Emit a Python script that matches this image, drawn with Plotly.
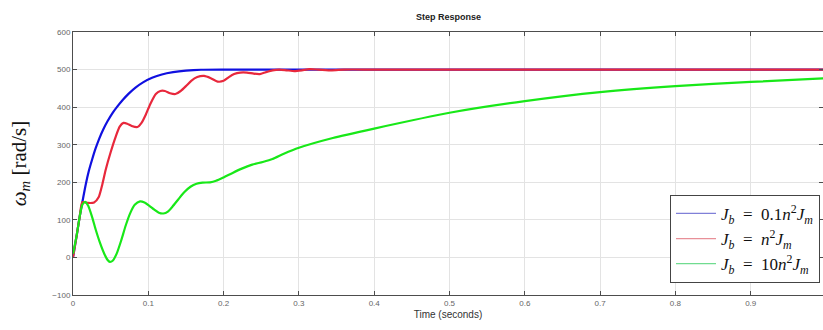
import plotly.graph_objects as go

# Step response of motor speed for three load inertia ratios
t_fast = [0, 0.005, 0.009, 0.0124, 0.017, 0.021, 0.025, 0.030, 0.035, 0.040, 0.046, 0.052, 0.059,
          0.066, 0.074, 0.083, 0.093, 0.105, 0.118, 0.133, 0.150, 0.170, 0.20, 0.25, 0.30, 0.40,
          0.60, 0.80, 1.00]
w_fast = [0, 60, 110, 147, 195, 230, 258, 290, 317, 340, 363, 383, 402,
          419, 436, 452, 466, 478, 487, 493, 497, 499.5, 500, 500, 500, 500,
          500, 500, 500]

t_mid = [0, 0.005, 0.009, 0.0124, 0.020, 0.028, 0.034, 0.039, 0.0435, 0.050, 0.057, 0.062, 0.067,
         0.072, 0.078, 0.0855, 0.091, 0.0966, 0.103, 0.110, 0.116, 0.122, 0.129, 0.136, 0.143,
         0.150, 0.157, 0.165, 0.174, 0.183, 0.192, 0.200, 0.207, 0.214, 0.222, 0.231, 0.240,
         0.248, 0.256, 0.265, 0.274, 0.284, 0.294, 0.304, 0.314, 0.326, 0.344, 0.36, 0.40,
         0.60, 0.80, 1.00]
w_mid = [0, 60, 110, 147, 145, 146, 160, 195, 234, 280, 323, 348, 358,
         356, 350, 347, 358, 380, 410, 435, 443, 443, 437, 435, 443,
         456, 470, 480, 483, 477, 468, 470, 480, 488, 492, 492, 489,
         488, 493, 498, 500, 498, 496, 498, 501, 500, 498, 500, 500,
         500, 500, 500]

t_slow = [0, 0.005, 0.009, 0.0124, 0.016, 0.020, 0.025, 0.030, 0.036, 0.0415, 0.046, 0.049, 0.053,
          0.058, 0.064, 0.070, 0.076, 0.082, 0.089, 0.095, 0.101, 0.108, 0.114, 0.120, 0.126,
          0.132, 0.140, 0.148, 0.156, 0.164, 0.172, 0.182, 0.190, 0.200, 0.212, 0.225, 0.238,
          0.252, 0.265, 0.280, 0.300, 0.345, 0.40, 0.50, 0.60, 0.70, 0.80, 0.90, 1.00]
w_slow = [10, 60, 110, 140, 148, 138, 110, 75, 38, 10, -7, -12, -8,
          10, 45, 85, 118, 140, 149, 146, 138, 127, 119, 117, 122,
          135, 155, 174, 188, 196, 199, 200, 204, 213, 225, 237, 247,
          254, 262, 276, 292, 318, 343, 385, 416, 440, 456, 467, 477]

labels = [
    "<i>J</i><sub><i>b</i></sub> &nbsp;=&nbsp; 0.1<i>n</i><sup>2</sup><i>J</i><sub><i>m</i></sub>",
    "<i>J</i><sub><i>b</i></sub> &nbsp;=&nbsp; <i>n</i><sup>2</sup><i>J</i><sub><i>m</i></sub>",
    "<i>J</i><sub><i>b</i></sub> &nbsp;=&nbsp; 10<i>n</i><sup>2</sup><i>J</i><sub><i>m</i></sub>",
]
colors = ["#1010e0", "#e8283c", "#18e818"]
legend_colors = ["#8080d8", "#e89098", "#70dc90"]

x_ticks = [0, 0.1, 0.2, 0.3, 0.4, 0.5, 0.6, 0.7, 0.8, 0.9]
y_ticks = [-100, 0, 100, 200, 300, 400, 500, 600]

fig = go.Figure()
for t, w, name, c in zip([t_fast, t_mid, t_slow], [w_fast, w_mid, w_slow], labels, colors):
    fig.add_trace(go.Scatter(x=t, y=w, mode="lines", name=name, showlegend=False,
                             line=dict(color=c, width=2.2, shape="spline", smoothing=0.6)))

# legend entries drawn with thin sample lines
for name, c in zip(labels, legend_colors):
    fig.add_trace(go.Scatter(x=[None], y=[None], mode="lines", name=name,
                             line=dict(color=c, width=1.3)))

axis_common = dict(
    showline=True, linecolor="#4d4d4d", linewidth=1, mirror="ticks",
    ticks="inside", ticklen=4, tickcolor="#4d4d4d",
    showgrid=True, gridcolor="#e3e3e3", gridwidth=1, zeroline=False,
    tickfont=dict(family="Liberation Sans, Arial", size=8, color="#666666"),
)

fig.update_xaxes(range=[0, 0.996], tickvals=x_ticks, ticktext=[f"{v:g}" for v in x_ticks],
                 title=dict(text="Time (seconds)", standoff=4,
                            font=dict(family="Liberation Sans, Arial", size=10, color="#333333")),
                 **axis_common)
fig.update_yaxes(range=[-100, 600], tickvals=y_ticks,
                 title=dict(text="<i>ω</i><sub><i>m</i></sub> [rad/s]", standoff=20,
                            font=dict(family="Liberation Serif, DejaVu Serif", size=21, color="#111111")),
                 **axis_common)

fig.update_layout(
    width=823, height=330,
    margin=dict(l=73, r=0, t=32, b=35),
    paper_bgcolor="white", plot_bgcolor="white",
    title=dict(text="<b>Step Response</b>", x=0.545, xanchor="center", y=0.95, yanchor="middle",
               font=dict(family="Liberation Sans, Arial", size=9, color="#222222")),
    legend=dict(x=0.996, xanchor="right", y=0.046, yanchor="bottom",
                bgcolor="white", bordercolor="#444444", borderwidth=1,
                font=dict(family="Liberation Serif, DejaVu Serif", size=17, color="#111111"),
                tracegroupgap=0, itemwidth=40),
    showlegend=True,
)

fig.write_html("out.html")
